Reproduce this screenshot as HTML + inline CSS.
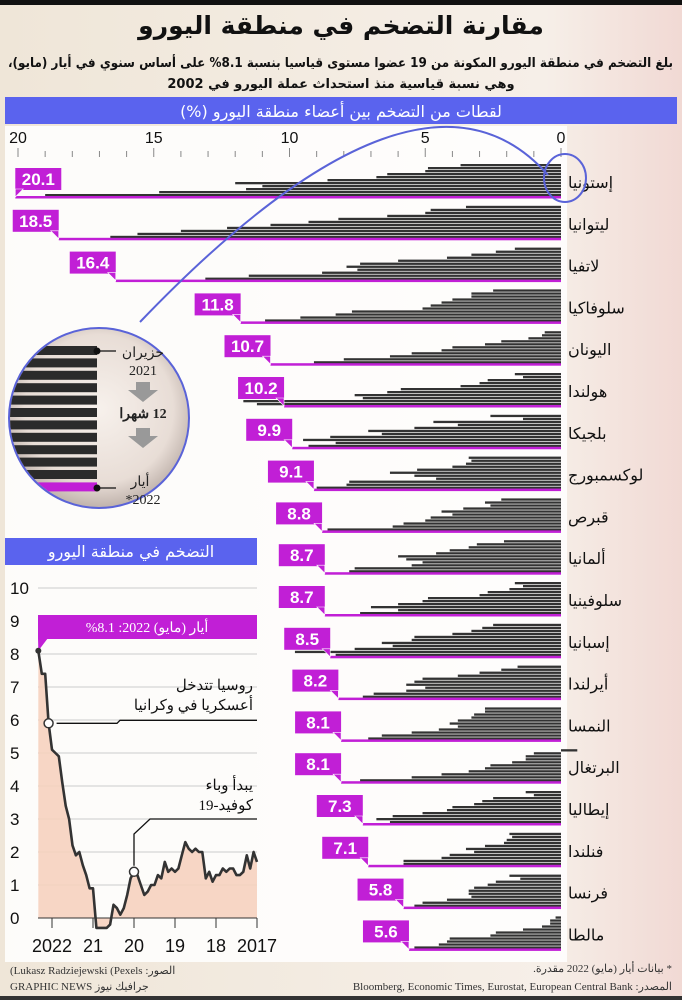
<!DOCTYPE html>
<html><head><meta charset="utf-8">
<style>
html,body{margin:0;padding:0;background:#f3ece2;}
svg{display:block;}
text{font-family:"Liberation Sans","Noto Sans CJK SC",sans-serif;}
.ar{font-family:"DejaVu Sans","Liberation Sans","Noto Sans CJK SC",sans-serif;}
.sr{font-family:"Liberation Serif","DejaVu Serif",serif;}
</style></head>
<body>
<svg id="root" width="682" height="1000" viewBox="0 0 682 1000" xmlns="http://www.w3.org/2000/svg">
<defs>
<radialGradient id="lens" cx="50%" cy="45%" r="55%">
<stop offset="0%" stop-color="#f7f1ec"/><stop offset="75%" stop-color="#e8ddd6"/><stop offset="100%" stop-color="#bfb2ab"/>
</radialGradient>
<linearGradient id="bgg" x1="0" x2="1" y1="0" y2="0">
<stop offset="0%" stop-color="#efe6d8"/><stop offset="80%" stop-color="#f6efe8"/><stop offset="100%" stop-color="#f1d9d4"/>
</linearGradient>
<clipPath id="lensClip"><circle cx="99" cy="418" r="89"/></clipPath>
</defs>
<rect x="0" y="0" width="682" height="1000" fill="url(#bgg)"/>
<rect x="0" y="0" width="682" height="5" fill="#111"/>
<text x="341" y="34" text-anchor="middle" font-size="25" font-weight="bold" class="ar" fill="#111" direction="rtl">مقارنة التضخم في منطقة اليورو</text>
<text x="673" y="67" font-size="13" font-weight="bold" class="ar" fill="#111" direction="rtl" textLength="665" lengthAdjust="spacingAndGlyphs">بلغ التضخم في منطقة اليورو المكونة من 19 عضوا مستوى قياسيا بنسبة 8.1% على أساس سنوي في أيار (مايو)،</text>
<text x="341" y="88" text-anchor="middle" font-size="13" font-weight="bold" class="ar" fill="#111" direction="rtl">وهي نسبة قياسية منذ استحداث عملة اليورو في 2002</text>
<rect x="5" y="97" width="672" height="27" fill="#5a63ee"/>
<text x="341" y="117" text-anchor="middle" font-size="16" class="ar" fill="#fff" direction="rtl">لقطات من التضخم بين أعضاء منطقة اليورو (%)</text>
<rect x="5" y="126" width="562" height="836" fill="#fff" opacity="0.85"/>
<g id="barAxis"></g>
<g id="bars"></g>
<g id="labels"></g>
<path d="M140,322 Q420,30 548,175" fill="none" stroke="#5a63d8" stroke-width="2"/>
<ellipse cx="565" cy="178" rx="21" ry="24" fill="none" stroke="#5a63d8" stroke-width="2"/>
<circle cx="99" cy="418" r="90" fill="url(#lens)" stroke="#5a63d8" stroke-width="2"/>
<g id="lensBars" clip-path="url(#lensClip)"></g>
<circle cx="97" cy="351" r="3.5" fill="#111"/>
<line x1="97" y1="351" x2="116" y2="351" stroke="#111" stroke-width="1.2"/>
<circle cx="97" cy="488" r="3.5" fill="#111"/>
<line x1="97" y1="488" x2="116" y2="488" stroke="#111" stroke-width="1.2"/>
<text x="143" y="357" text-anchor="middle" font-size="14" class="sr" fill="#222" direction="rtl">حزيران</text>
<text x="143" y="375" text-anchor="middle" font-size="14" class="sr" fill="#222">2021</text>
<path d="M136,382 h14 v8 h8 l-15,12 l-15,-12 h8 z" fill="#999"/>
<text x="143" y="418" text-anchor="middle" font-size="14" font-weight="bold" class="sr" fill="#222" direction="rtl">12 شهرا</text>
<path d="M136,428 h14 v8 h8 l-15,12 l-15,-12 h8 z" fill="#999"/>
<text x="140" y="486" text-anchor="middle" font-size="14" class="sr" fill="#222" direction="rtl">أيار</text>
<text x="143" y="504" text-anchor="middle" font-size="14" class="sr" fill="#222">*2022</text>
<rect x="5" y="538" width="252" height="27" fill="#5a63ee"/>
<text x="131" y="557" text-anchor="middle" font-size="16" class="ar" fill="#fff" direction="rtl">التضخم في منطقة اليورو</text>
<g id="lineChart"></g>
<text x="672" y="972" font-size="11" class="sr" fill="#333" direction="rtl">* بيانات أيار (مايو) 2022 مقدرة.</text>
<text x="672" y="990" text-anchor="end" font-size="11" class="sr" fill="#333">Bloomberg, Economic Times, Eurostat, European Central Bank :المصدر</text>
<text x="10" y="974" font-size="11" class="sr" fill="#333">(Lukasz Radziejewski (Pexels :الصور</text>
<text x="10" y="990" font-size="11" class="sr" fill="#333">GRAPHIC NEWS جرافيك نيوز</text>
<rect x="0" y="996" width="682" height="4" fill="#333"/>
</svg>
<script>
const NS="http://www.w3.org/2000/svg";
const countries=["إستونيا","ليتوانيا","لاتفيا","سلوفاكيا","اليونان","هولندا","بلجيكا","لوكسمبورج","قبرص","ألمانيا","سلوفينيا","إسبانيا","أيرلندا","النمسا","البرتغال","إيطاليا","فنلندا","فرنسا","مالطا"];
const estonia=[3.7,4.9,5.0,6.4,6.8,8.6,12.0,11.0,11.6,14.8,19.0,20.1];
const lithuania=[3.5,4.8,5.0,6.4,8.2,9.3,10.7,12.3,14.0,15.6,16.6,18.5];
const latvia=[1.7,2.4,3.3,4.2,6.0,7.4,7.9,7.5,8.8,11.5,13.1,16.4];
const slovakia=[2.5,3.3,3.3,4.0,4.4,4.8,5.1,7.7,8.3,9.6,10.9,11.8];
const greece=[0.6,0.7,1.2,2.2,2.8,4.0,4.4,5.5,6.3,8.0,9.1,10.7];
const netherlands=[1.7,1.4,2.7,3.0,3.7,5.9,6.4,7.6,7.3,11.7,11.2,10.2];
const belgium=[2.6,1.4,4.7,3.8,5.4,7.1,6.6,8.5,9.5,8.3,9.3,9.9];
const luxembourg=[3.4,3.3,3.5,4.0,5.3,6.3,5.4,4.6,7.8,7.9,9.0,9.1];
const cyprus=[2.2,2.8,2.6,3.6,4.4,4.0,4.8,5.0,5.8,6.2,8.6,8.8];
const germany=[2.1,3.1,3.4,4.1,4.6,6.0,5.7,5.1,5.5,7.6,7.8,8.7];
const slovenia=[1.7,1.4,1.9,2.7,3.0,4.9,5.1,6.0,7.0,6.0,7.4,8.7];
const spain=[2.5,2.9,3.3,4.0,5.4,5.5,6.6,6.2,7.6,9.8,8.3,8.5];
const ireland=[1.6,2.2,3.0,3.8,5.1,5.4,5.7,5.0,5.7,6.9,7.3,8.2];
const austria=[2.8,2.8,3.2,3.3,3.8,4.1,3.8,4.5,5.5,6.6,7.1,8.1];
const portugal=[-0.6,1.0,1.3,1.3,1.8,2.6,2.8,3.4,4.4,5.5,7.4,8.1];
const italy=[1.3,1.0,2.5,2.9,3.2,4.0,4.2,5.1,6.2,6.8,6.3,7.3];
const finland=[1.9,1.8,2.0,2.1,2.8,3.5,3.2,4.1,4.4,5.8,5.8,7.1];
const france=[1.9,1.5,2.4,2.7,3.2,3.4,3.4,3.3,4.2,5.1,5.4,5.8];
const malta=[0.2,0.4,0.4,0.7,1.4,2.4,2.6,4.1,4.2,4.5,5.4,5.6];
const series=[estonia,lithuania,latvia,slovakia,greece,netherlands,belgium,luxembourg,cyprus,germany,slovenia,spain,ireland,austria,portugal,italy,finland,france,malta];
const barTicks=[20,15,10,5,0];
const euroArea=[1.7,2.0,1.5,1.9,1.4,1.3,1.3,1.5,1.5,1.4,1.5,1.3,
1.3,1.1,1.4,1.2,2.0,2.0,2.1,2.0,2.1,2.3,1.9,1.5,
1.4,1.5,1.4,1.7,1.2,1.3,1.0,1.0,0.8,0.7,1.0,1.3,
1.4,1.2,0.7,0.3,0.1,0.3,0.4,-0.2,-0.3,-0.3,-0.3,-0.3,
0.9,0.9,1.3,1.6,2.0,1.9,2.2,3.0,3.4,4.1,4.9,5.0,
5.1,5.9,7.4,7.4,8.1];
const yTicks=[0,1,2,3,4,5,6,7,8,9,10];
const yearLabels=["2017","18","19","20","21","2022"];
const yearStarts=[0,12,24,36,48,60];
const ukraineIdx=61, covidIdx=36;

function el(tag,attrs,parent,txt){const e=document.createElementNS(NS,tag);for(const k in attrs)e.setAttribute(k,attrs[k]);if(txt!==undefined)e.textContent=txt;parent.appendChild(e);return e;}
const MAG="#c11fd6";
const xb=v=>561-v*27.15;
const rowBase=i=>197+i*41.8;
const ax=document.getElementById('barAxis');
for(let v=0;v<=20;v++){
  const t=el('line',{x1:xb(v),x2:xb(v),y1:v%5===0?148:151,y2:157,stroke:'#888','stroke-width':1},ax);
  
  
}
barTicks.forEach(v=>{
  const t=el('text',{x:xb(v),y:143,'text-anchor':'middle','font-size':16,fill:'#111'},ax,String(v));
  
  
});
const bg=document.getElementById('bars'), lg=document.getElementById('labels');
series.forEach((vals,i)=>{
  const base=rowBase(i);
  const g=el('g',{},bg);
  
  
  vals.forEach((v,j)=>{
    const y=base-33+3*j;
    if(j===11){
      const r=el('rect',{x:xb(v),y:base-1,width:xb(0)-xb(v),height:2.5,fill:MAG},g);
      
      
    }else{
      const x0=Math.min(xb(v),xb(0)), w=Math.abs(xb(0)-xb(v));
      const r=el('rect',{x:x0,y:y,width:w,height:2.3,fill:'#333'},g);
      
      
    }
  });
  const last=vals[11], sx=xb(last);
  let bx, tailX;
  if(sx-46<12){bx=sx;tailX=sx;}else{bx=sx-46;tailX=sx;}
  const by=base-29;
  const box=el('rect',{x:bx,y:by,width:46,height:22,fill:MAG},lg);
  
  
  const tail=el('path',{d:(tailX===bx?`M${bx},${by+21} L${bx},${base} L${bx+8},${by+21} Z`:`M${tailX-8},${by+21} L${tailX},${base} L${tailX},${by+21} Z`),fill:MAG,stroke:'#fff','stroke-width':0.6},lg);
  
  
  const vt=el('text',{x:bx+23,y:by+17,'text-anchor':'middle','font-size':17,'font-weight':'bold',fill:'#fff'},lg,last.toFixed(1));
  
  
  const ct=el('text',{x:568,y:base-9,'font-size':16,fill:'#111',class:'ar'},lg,countries[i]);
  
  
});
const lb=document.getElementById('lensBars');
for(let j=0;j<12;j++){
  const y=346+j*12.4;
  const r=el('rect',{x:0,y:y,width:97,height:9,fill:j===11?MAG:'#2b2b2b'},lb);
  
  
}
const lc=document.getElementById('lineChart');
const xl=i=>257-i*41/12;
const yl=v=>918-v*33;
yTicks.forEach(v=>{
  if(v>0){const gl=el('line',{x1:38,x2:257,y1:yl(v),y2:yl(v),stroke:'#ccc','stroke-width':1},lc);
  
  }
  const t=el('text',{x:10,y:yl(v)+6,'font-size':17,fill:'#111'},lc,String(v));
  
  
});
let pts=euroArea.map((v,i)=>[xl(i),yl(v)]);
const areaD='M'+xl(0)+','+yl(0)+' '+pts.map(p=>'L'+p[0].toFixed(1)+','+p[1].toFixed(1)).join(' ')+' L'+xl(euroArea.length-1)+','+yl(0)+' Z';
const area=el('path',{d:areaD,fill:'#f6d2bf',opacity:0.9},lc);


const base0=el('line',{x1:38,x2:257,y1:yl(0),y2:yl(0),stroke:'#333','stroke-width':1},lc);


yearStarts.forEach((m,k)=>{
  const t=el('line',{x1:xl(m),x2:xl(m),y1:yl(0),y2:yl(0)+10,stroke:'#333','stroke-width':1},lc);
  
  
  const tt=el('text',{x:xl(m),y:952,'text-anchor':'middle','font-size':18,fill:'#111'},lc,yearLabels[k]);
  
  
});
const line=el('path',{d:'M'+pts.map(p=>p[0].toFixed(1)+','+p[1].toFixed(1)).join(' L'),fill:'none',stroke:'#333','stroke-width':2.6,'stroke-linejoin':'round'},lc);


const last=euroArea.length-1;
const ab=el('rect',{x:38,y:615,width:219,height:24,fill:MAG},lc);


const abt=el('path',{d:`M38,638 L${xl(last)},${yl(euroArea[last])} L48,638 Z`,fill:MAG},lc);


const abx=el('text',{x:147,y:632,'text-anchor':'middle','font-size':14,fill:'#fff',class:'sr',direction:'rtl'},lc,'أيار (مايو) 2022: 8.1%');


const ld=el('circle',{cx:xl(last),cy:yl(euroArea[last]),r:3,fill:'#333'},lc);


const ux=xl(ukraineIdx), uy=yl(euroArea[ukraineIdx]);
const ul=el('path',{d:`M${ux+8},${uy} L117,${uy} L120,${uy-3} L257,${uy-3}`,fill:'none',stroke:'#111','stroke-width':1.3},lc);


const uc=el('circle',{cx:ux,cy:uy,r:4.5,fill:'#fff',stroke:'#333','stroke-width':1.5},lc);


const ut1=el('text',{x:253,y:690,'font-size':15,fill:'#111',class:'sr',direction:'rtl'},lc,'روسيا تتدخل');


const ut2=el('text',{x:253,y:710,'font-size':15,fill:'#111',class:'sr',direction:'rtl'},lc,'أعسكريا في وكرانيا');


const cx=xl(covidIdx), cy=yl(euroArea[covidIdx]);
const cl=el('path',{d:`M${cx},${cy-6} L${cx},834 L150,819 L257,819`,fill:'none',stroke:'#111','stroke-width':1.3},lc);


const cc=el('circle',{cx:cx,cy:cy,r:4.5,fill:'#fff',stroke:'#333','stroke-width':1.5},lc);


const ct1=el('text',{x:253,y:790,'font-size':15,fill:'#111',class:'sr',direction:'rtl'},lc,'يبدأ وباء');


const ct2=el('text',{x:253,y:810,'font-size':15,fill:'#111',class:'sr',direction:'rtl'},lc,'كوفيد-19');


</script>
</body></html>
